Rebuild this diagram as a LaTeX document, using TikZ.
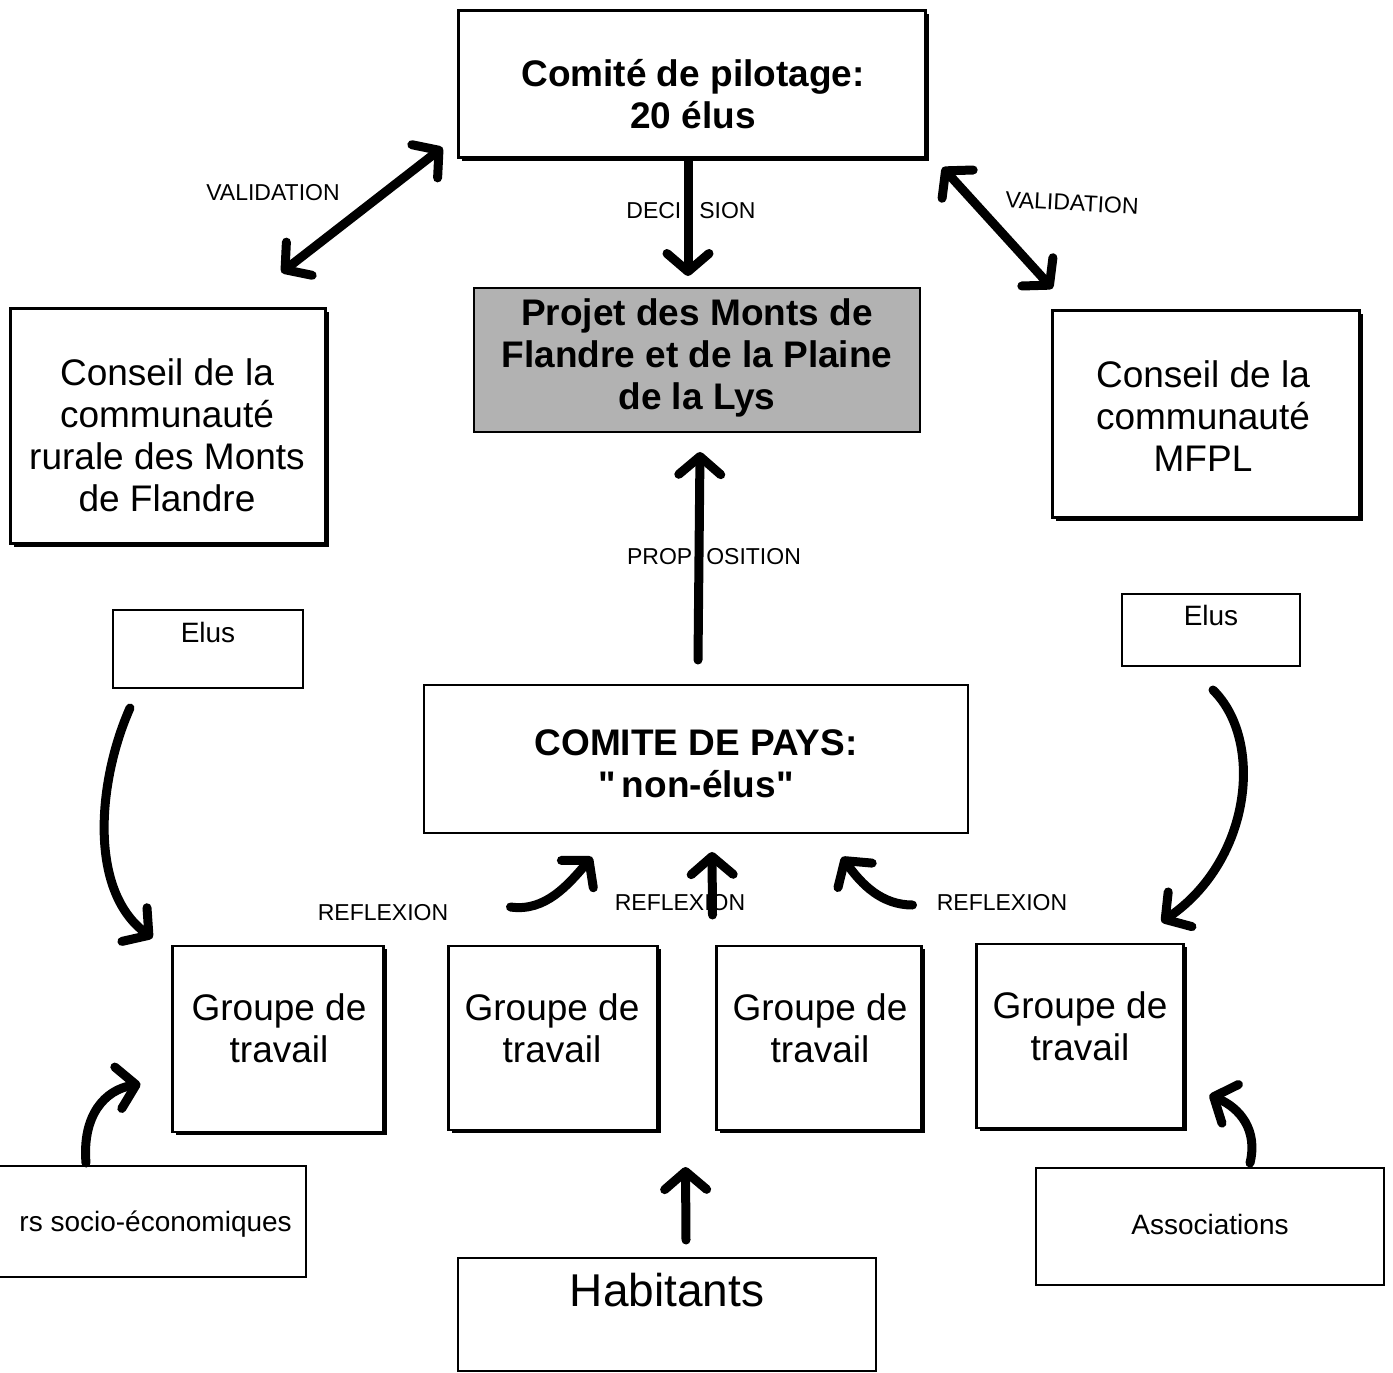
\documentclass[tikz,border=0pt]{standalone}
\usepackage{fontspec}
\setmainfont{Liberation Sans}[Ligatures=TeXOff]
\usetikzlibrary{arrows.meta,shadows}
\begin{document}
\begin{tikzpicture}[x=1pt,y=-1pt,
  shbox/.style={draw, line width=2.5pt, fill=white, inner sep=0pt, outer sep=0pt,
     drop shadow={shadow xshift=3pt, shadow yshift=-3pt, opacity=1, fill=black}},
  thinbox/.style={draw, line width=1.2pt, fill=white, inner sep=0pt, outer sep=0pt},
  big/.style={font=\fontsize{37}{42}\selectfont, align=center, inner sep=0pt},
  bigb/.style={font=\fontsize{37}{42}\selectfont\bfseries, align=center, inner sep=0pt},
  small/.style={font=\fontsize{28}{32}\selectfont, inner sep=0pt},
  hand/.style={font=\fontsize{23}{26}\selectfont, inner sep=0pt},
  tipb/.tip={Straight Barb[length=18pt,width=42pt,round,line width=9pt]},
  arr/.style={line width=9pt, line cap=round, line join=round, -tipb},
  darr/.style={line width=9pt, line cap=round, line join=round, tipb-tipb},
]
\useasboundingbox (0,0) rectangle (1393,1373);
\clip (0,0) rectangle (1393,1373);

% boxes
\node (pil) [shbox, minimum width=467pt, minimum height=147pt] at (692,84) {};
\node (proj) [draw, line width=1.2pt, fill=black!30, inner sep=0pt, outer sep=0pt, minimum width=446pt, minimum height=144pt] at (697,360) {};
\node (conL) [shbox, minimum width=315pt, minimum height=235pt] at (168,426) {};
\node (conR) [shbox, minimum width=307pt, minimum height=207pt] at (1206,414) {};
\node (elusL) [thinbox, minimum width=190pt, minimum height=78pt] at (208,649) {};
\node (elusR) [thinbox, minimum width=178pt, minimum height=72pt] at (1211,630) {};
\node (pays) [thinbox, minimum width=544pt, minimum height=148pt] at (696,759) {};
\node (g1) [shbox, minimum width=211pt, minimum height=186pt] at (278,1039) {};
\node (g2) [shbox, minimum width=209pt, minimum height=184pt] at (553,1038) {};
\node (g3) [shbox, minimum width=205pt, minimum height=184pt] at (819,1038) {};
\node (g4) [shbox, minimum width=207pt, minimum height=184pt] at (1080,1036) {};
\node (act) [thinbox, minimum width=406pt, minimum height=111pt] at (103,1221.5) {};
\node (assoc) [thinbox, minimum width=348pt, minimum height=117pt] at (1210,1226.5) {};
\node (hab) [draw, line width=2pt, fill=white, inner sep=0pt, outer sep=0pt, minimum width=418pt, minimum height=113pt] at (667,1314.5) {};

% texts
\node (pilT) [bigb] at (693,94) {Comité de pilotage:\\20 élus};
\node (projT) [bigb] at (697,358) {Projet des Monts de\\Flandre et de la Plaine\\de la Lys};
\node (conLT) [big] at (167,435) {Conseil de la\\communauté\\rurale des Monts\\de Flandre};
\node (conRT) [big] at (1203,416) {Conseil de la\\communauté\\MFPL};
\node (elusLT) [small] at (208,632) {Elus};
\node (elusRT) [small] at (1211,615) {Elus};
\node (paysT) [bigb] at (696,764) {COMITE DE PAYS:\\"\,non-élus"};
\node (g1T) [big] at (279,1028) {Groupe de\\travail};
\node (g2T) [big] at (552,1028) {Groupe de\\travail};
\node (g3T) [big] at (820,1028) {Groupe de\\travail};
\node (g4T) [big] at (1080,1026) {Groupe de\\travail};
\node (actT) [small, anchor=east] at (292,1224) {rs socio-économiques};
\node (assocT) [small] at (1210,1224) {Associations};
\node (habT) [font=\fontsize{46}{50}\selectfont, inner sep=0pt] at (667,1290) {Habitants};

% handwritten labels
\node (lvalL) [hand] at (273,193) {VALIDATION};
\node (lvalR) [hand, rotate=-3] at (1072,203) {VALIDATION};
\node (ldec) [hand] at (691,211) {DECI\hspace{18pt}SION};
\node (lprop) [hand] at (714,557) {PROP\hspace{14pt}OSITION};
\node (lref1) [hand] at (383,913) {REFLEXION};
\node (lref2) [hand] at (680,903) {REFLEXION};
\node (lref3) [hand] at (1002,903) {REFLEXION};

% arrows
\draw[darr] ([shift={(-16,-10)}]pil.south west) -- ([shift={(-44,-36)}]conL.north east);
\draw[darr] ([shift={(17,10)}]pil.south east) -- ([shift={(0,-22)}]conR.north west);
\draw[arr] ([shift={(-4,4)}]pil.south) -- ([shift={(-9,-12)}]proj.north);
\draw[arr] ([shift={(2,-25)}]pays.north) -- ([shift={(3,20)}]proj.south);
\draw[arr] ([shift={(17,20)}]elusL.south west) .. controls (98,780) and (88,890) .. ([shift={(-20,-8)}]g1.north west);
\draw[arr] ([shift={(2,24)}]elusR.south) .. controls (1264,740) and (1252,860) .. ([shift={(-22,-22)}]g4.north east);
\draw[arr] ([shift={(62,-39)}]g2.north west) .. controls (545,912) and (568,885) .. ([shift={(168,24)}]pays.south west);
\draw[arr] ([shift={(-4,-31)}]g3.north west) -- ([shift={(16,19)}]pays.south);
\draw[arr] ([shift={(-9,-41)}]g3.north east) .. controls (882,905) and (862,885) .. ([shift={(-126,24)}]pays.south east);
\draw[arr] ([shift={(-17,-3)}]act.north) .. controls (82,1115) and (105,1090) .. ([shift={(-32,-48)}]g1.south west);
\draw[arr] ([shift={(40,-5)}]assoc.north) .. controls (1258,1130) and (1240,1108) .. ([shift={(26,-33)}]g4.south east);
\draw[arr] ([shift={(19,-18)}]hab.north) -- ([shift={(28,37)}]g2.south east);
\end{tikzpicture}
\end{document}
